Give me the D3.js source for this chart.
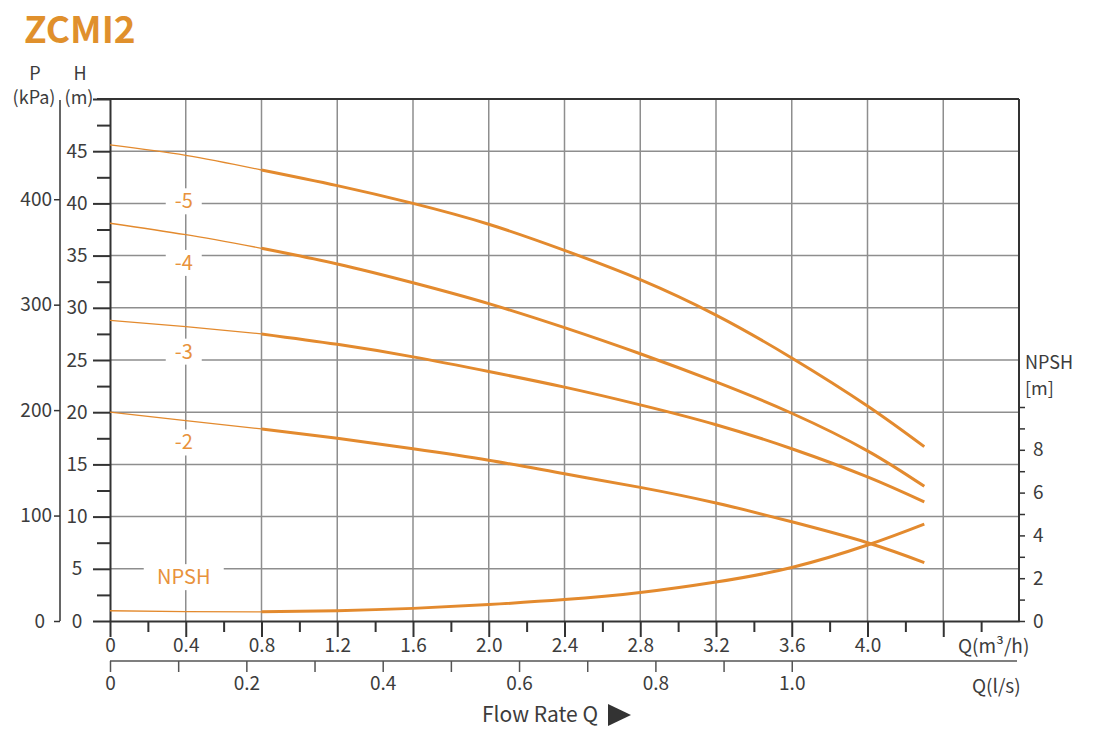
<!DOCTYPE html>
<html>
<head>
<meta charset="utf-8">
<script src="https://cdn.jsdelivr.net/npm/d3@7"></script>
<style>
  body { margin: 0; background: #fff; }
  svg text { font-family: "Noto Sans CJK SC", "Noto Sans", sans-serif; }
</style>
</head>
<body>
<svg id="chart" width="1100" height="731"></svg>
<script>
// flow points (m³/h) and read-off heads (m)
let flow = [0, 0.4, 0.8, 1.2, 1.6, 2.0, 2.4, 2.8, 3.2, 3.6, 4.0, 4.3];
let head5 = [45.6, 44.6, 43.2, 41.7, 40.0, 38.0, 35.5, 32.7, 29.3, 25.2, 20.6, 16.7];
let head4 = [38.1, 37.0, 35.7, 34.2, 32.4, 30.4, 28.1, 25.6, 22.9, 19.9, 16.3, 12.9];
let head3 = [28.8, 28.2, 27.5, 26.5, 25.3, 23.9, 22.4, 20.7, 18.8, 16.5, 13.8, 11.4];
let head2 = [20.0, 19.2, 18.4, 17.5, 16.5, 15.4, 14.1, 12.8, 11.3, 9.5, 7.5, 5.6];
let npsh = [0.48, 0.44, 0.43, 0.48, 0.59, 0.77, 1.0, 1.33, 1.82, 2.5, 3.55, 4.53];
let curveNames = ["-5", "-4", "-3", "-2"];

// tick labels
let qTicks = [0, 0.4, 0.8, 1.2, 1.6, 2.0, 2.4, 2.8, 3.2, 3.6, 4.0];
let lsTicks = [0, 0.2, 0.4, 0.6, 0.8, 1.0];
let hTicks = [0, 5, 10, 15, 20, 25, 30, 35, 40, 45];
let pTicks = [0, 100, 200, 300, 400];
let npshTicks = [0, 2, 4, 6, 8];

let orange = "#e38a2e";
let labelOrange = "#e8923c";
let axisColor = "#333";
let textColor = "#3c3c3c";
let gridColor = "#8e8e8e";

let svg = d3.select('#chart');
let plotLeft = 110, plotRight = 1019, plotTop = 99, plotBottom = 621;

let x = d3.scaleLinear().domain([0, 4.8]).range([plotLeft, plotRight]);
let xLs = d3.scaleLinear().domain([0, 4.8 / 3.6]).range([plotLeft, plotRight]);
let y = d3.scaleLinear().domain([0, 50]).range([plotBottom, plotTop]);
let yP = d3.scaleLinear().domain([0, 100]).range([plotBottom, y(10.1)]);
let yN = d3.scaleLinear().domain([0, 10]).range([plotBottom, 407]);

// title
svg.append("text")
    .attr("x", 24).attr("y", 43)
    .attr("fill", "#e0902c")
    .style("font-size", "37px").style("font-weight", "bold")
    .text("ZCMI2");

// grid
let gridQ = d3.range(1, 12).map(i => i * 0.4);
svg.append("g").selectAll("line")
    .data(gridQ).enter().append("line")
    .attr("x1", d => x(d)).attr("x2", d => x(d))
    .attr("y1", plotTop).attr("y2", plotBottom)
    .attr("stroke", gridColor).attr("stroke-width", 1.5);
svg.append("g").selectAll("line")
    .data(hTicks.slice(1)).enter().append("line")
    .attr("x1", plotLeft).attr("x2", plotRight)
    .attr("y1", d => y(d)).attr("y2", d => y(d))
    .attr("stroke", gridColor).attr("stroke-width", 1.5);

// frame
svg.append("line").attr("x1", 97).attr("x2", plotRight).attr("y1", plotTop).attr("y2", plotTop)
    .attr("stroke", axisColor).attr("stroke-width", 2);
svg.append("line").attr("x1", plotRight).attr("x2", plotRight).attr("y1", plotTop).attr("y2", plotBottom + 1)
    .attr("stroke", axisColor).attr("stroke-width", 2);

// H axis
let hAxis = d3.axisLeft(y)
    .tickValues(d3.range(0, 21).map(i => i * 2.5))
    .tickSize(17).tickSizeOuter(0)
    .tickFormat(d => (d % 5 === 0 && d < 50) ? d : "");
let gH = svg.append("g").attr("transform", "translate(" + plotLeft + ",0)").call(hAxis);
gH.select(".domain").attr("stroke", axisColor).attr("stroke-width", 2);
gH.selectAll(".tick line").attr("stroke", axisColor).attr("stroke-width", 2)
    .attr("x2", d => d % 5 === 0 ? -17 : -13);
gH.selectAll(".tick text").attr("x", -33).attr("text-anchor", "middle")
    .attr("fill", textColor).style("font-size", "19px");

// P axis
let pAxis = d3.axisLeft(yP).tickValues(pTicks).tickSize(6).tickSizeOuter(0).tickPadding(2);
let gP = svg.append("g").attr("transform", "translate(60,0)").call(pAxis);
gP.select(".domain").remove();
gP.append("line").attr("x1", 0).attr("x2", 0).attr("y1", 100).attr("y2", plotBottom)
    .attr("stroke", axisColor).attr("stroke-width", 1.5);
gP.selectAll(".tick line").attr("stroke", axisColor).attr("stroke-width", 1.5);
gP.selectAll(".tick text").attr("fill", textColor).style("font-size", "19px")
    .attr("x", d => d === 0 ? -15 : -8);

// axis titles top left
[["P", 35, 80], ["(kPa)", 34, 104], ["H", 80, 80], ["(m)", 79, 104]].forEach(t => {
    svg.append("text").attr("x", t[1]).attr("y", t[2])
        .attr("text-anchor", "middle").attr("fill", textColor)
        .style("font-size", "18px").text(t[0]);
});

// Q m³/h axis
let qAxis = d3.axisBottom(x)
    .tickValues(d3.range(0, 24).map(i => i * 0.2))
    .tickSize(16).tickSizeOuter(0)
    .tickFormat((d, i) => (i % 2 === 0 && qTicks.indexOf(+d.toFixed(1)) >= 0) ? (d === 0 ? "0" : d.toFixed(1)) : "");
let gQ = svg.append("g").attr("transform", "translate(0," + plotBottom + ")").call(qAxis);
gQ.select(".domain").attr("stroke", axisColor).attr("stroke-width", 2);
gQ.selectAll(".tick line").attr("stroke", axisColor).attr("stroke-width", 2)
    .attr("y2", (d, i) => i % 2 === 0 ? 16 : 11);
gQ.selectAll(".tick text").attr("y", 18).attr("dy", "0.71em")
    .attr("fill", textColor).style("font-size", "19px");
svg.append("text").attr("x", 958).attr("y", 653).attr("fill", textColor)
    .style("font-size", "19px").text("Q(m³/h)");

// Q l/s axis
let lsAxis = d3.axisBottom(xLs)
    .tickValues(d3.range(0, 11).map(i => i * 0.1))
    .tickSize(11).tickSizeOuter(0)
    .tickFormat((d, i) => i % 2 === 0 ? (d === 0 ? "0" : lsTicks[i / 2].toFixed(1)) : "");
let gL = svg.append("g").attr("transform", "translate(0,661)").call(lsAxis);
gL.select(".domain").remove();
gL.append("line").attr("x1", plotLeft).attr("x2", 1017).attr("y1", 0).attr("y2", 0)
    .attr("stroke", "#555").attr("stroke-width", 1.5);
gL.selectAll(".tick line").attr("stroke", "#555").attr("stroke-width", 1.5);
gL.selectAll(".tick text").attr("y", 16).attr("dy", "0.71em")
    .attr("fill", textColor).style("font-size", "19px");
svg.append("text").attr("x", 972).attr("y", 693).attr("fill", textColor)
    .style("font-size", "19px").text("Q(l/s)");

// NPSH axis
let nAxis = d3.axisRight(yN).tickValues(d3.range(0, 11)).tickSize(6).tickPadding(8)
    .tickFormat(d => npshTicks.indexOf(d) >= 0 ? d : "");
let gN = svg.append("g").attr("transform", "translate(" + plotRight + ",0)").call(nAxis);
gN.select(".domain").remove();
gN.selectAll(".tick line").attr("stroke", axisColor).attr("stroke-width", 1.5);
gN.selectAll(".tick text").attr("fill", textColor).style("font-size", "19px");
svg.append("text").attr("x", 1025).attr("y", 369).attr("fill", textColor)
    .style("font-size", "18px").text("NPSH");
svg.append("text").attr("x", 1025).attr("y", 395).attr("fill", textColor)
    .style("font-size", "18px").text("[m]");

// flow rate title
svg.append("text").attr("x", 482).attr("y", 722).attr("fill", textColor)
    .style("font-size", "21px").text("Flow Rate Q");
svg.append("path").attr("d", "M608,704 L631,715 L608,726 Z").attr("fill", "#333");

// curves
let line = d3.line().x(d => x(d[0])).y(d => d[1]).curve(d3.curveNatural);
let series = [head5, head4, head3, head2].map(h => flow.map((q, i) => [q, y(h[i])]));
series.push(flow.map((q, i) => [q, yN(npsh[i])]));

let curves = svg.append("g");
series.forEach(s => {
    curves.append("path").datum(s.filter(d => d[0] <= 0.8))
        .attr("d", line).attr("fill", "none")
        .attr("stroke", orange).attr("stroke-width", 1.3);
    curves.append("path").datum(s.filter(d => d[0] >= 0.8))
        .attr("d", line).attr("fill", "none")
        .attr("stroke", orange).attr("stroke-width", 3);
});

// curve labels with white boxes over the grid
let labelText = curveNames.concat(["NPSH"]);
let labelH = [40.2, 34.3, 25.8, 17.1, 4.2];
labelText.forEach((t, i) => {
    let g = svg.append("g").attr("transform", "translate(" + (x(0.4) - 2) + "," + y(labelH[i]) + ")");
    let w = t === "NPSH" ? 80 : 36;
    g.append("rect").attr("x", -w / 2).attr("y", -13).attr("width", w).attr("height", 26).attr("fill", "#fff");
    g.append("text").attr("text-anchor", "middle").attr("dy", "0.35em")
        .attr("fill", labelOrange).style("font-size", "20px").text(t);
});
</script>
</body>
</html>
